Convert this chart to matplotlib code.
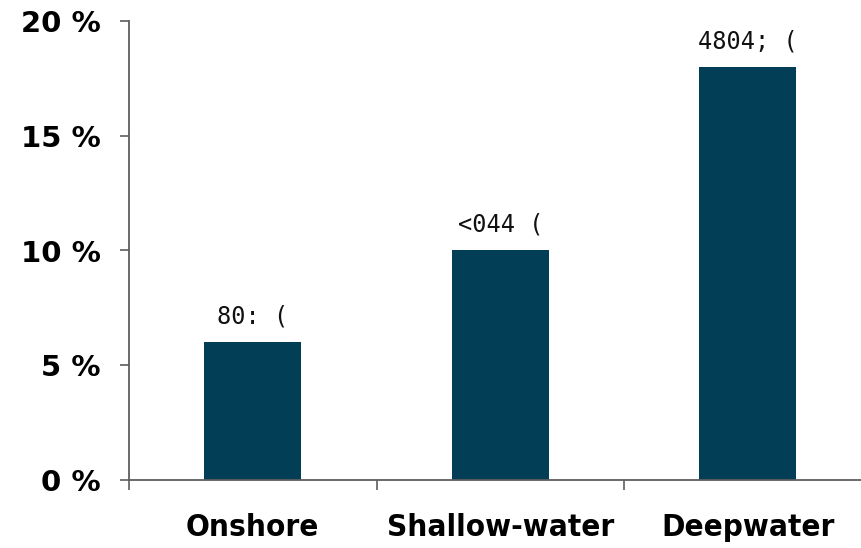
import matplotlib
matplotlib.use("Agg")
import matplotlib.pyplot as plt
from matplotlib.ticker import FixedLocator

categories = ["Onshore", "Shallow-water", "Deepwater"]
values = [6, 10, 18]
value_labels = ["80: (", "<044 (", "4804; ("]
y_ticks = [0, 5, 10, 15, 20]
y_tick_labels = ["0 %", "5 %", "10 %", "15 %", "20 %"]

bar_color = "#023f56"
axis_color = "#5e5e5e"

fig = plt.figure(figsize=(8.61, 5.48), dpi=100)
ax = fig.add_axes([129/861, 68/548, 742.5/861, 459/548])

x = list(range(len(categories)))
ax.bar(x, values, width=0.39, color=bar_color, zorder=2)

for xi, v, lab in zip(x, values, value_labels):
    ax.annotate(lab, (xi, v), xytext=(0, 10), textcoords="offset points",
                ha="center", va="bottom", fontsize=17,
                family="DejaVu Sans Mono", color="#111111")

ax.set_xlim(-0.5, 2.5)
ax.set_ylim(0, 20)

ax.set_yticks(y_ticks)
ax.set_yticklabels(y_tick_labels, fontsize=21, fontweight="bold")
ax.tick_params(axis="y", direction="out", length=6.5, width=1.2,
               color=axis_color, pad=14)

ax.set_xticks(x)
ax.set_xticklabels(categories, fontsize=22.5, fontweight="bold",
                   fontstretch="condensed")
ax.tick_params(axis="x", which="major", length=0, pad=24)
ax.xaxis.set_minor_locator(FixedLocator([-0.5, 0.5, 1.5, 2.5]))
ax.tick_params(axis="x", which="minor", direction="out", length=7,
               width=1.2, color=axis_color)

for s in ["top", "right"]:
    ax.spines[s].set_visible(False)
for s in ["left", "bottom"]:
    ax.spines[s].set_color(axis_color)
    ax.spines[s].set_linewidth(1.3)

fig.savefig("out.png", dpi=100)
